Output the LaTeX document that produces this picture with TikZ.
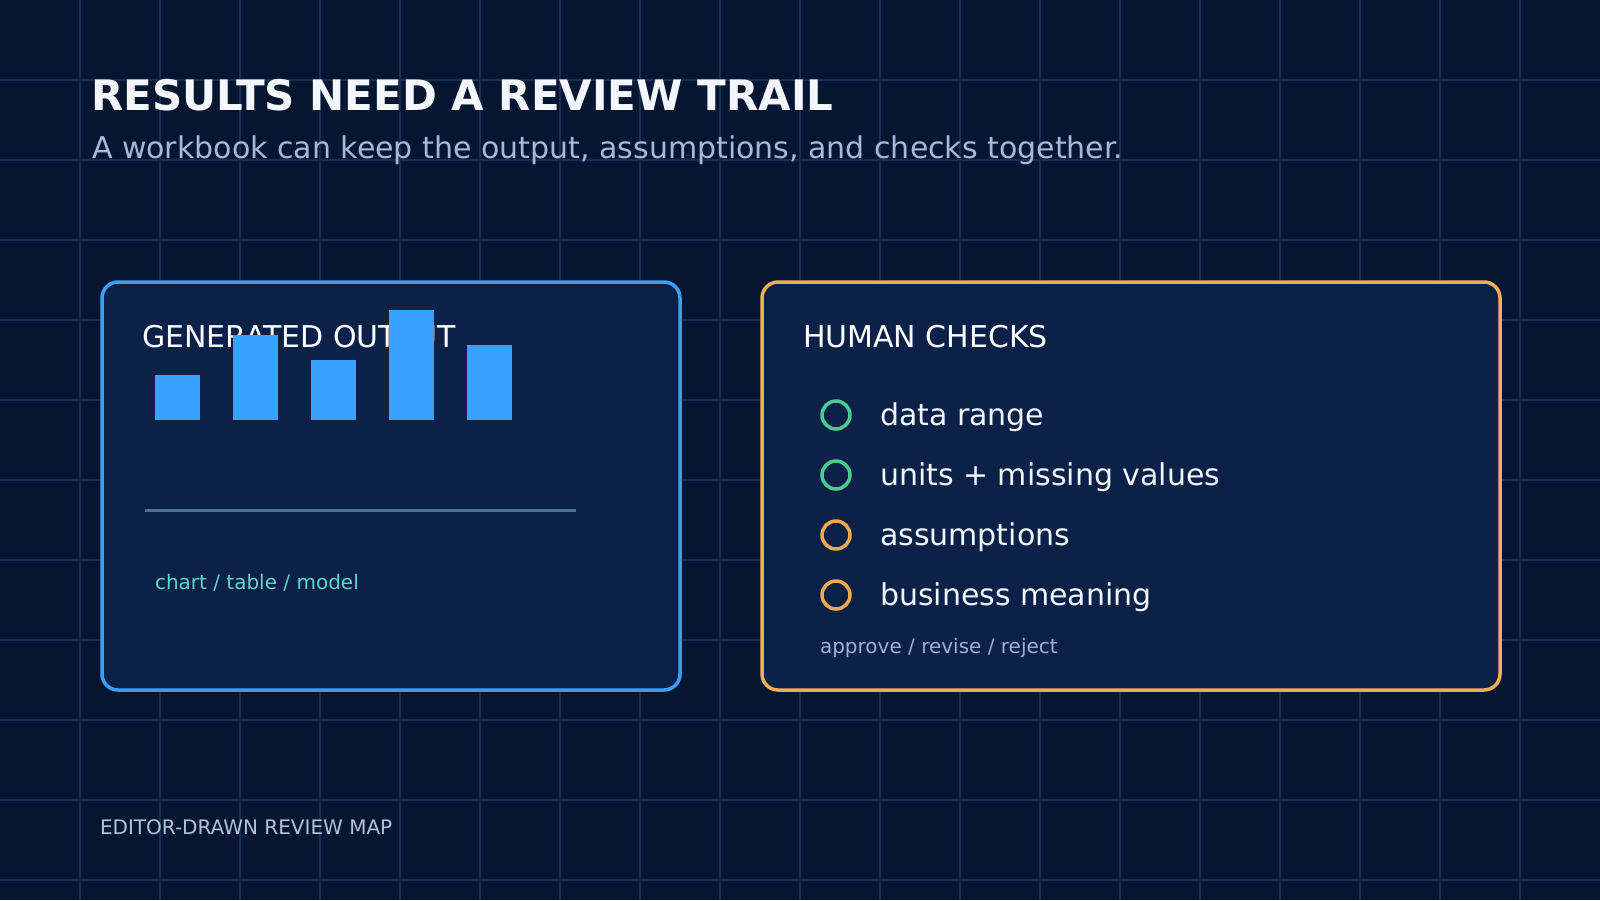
\documentclass[tikz,border=0pt]{standalone}
\usepackage{fontspec}
\setmainfont{DejaVu Sans}
\definecolor{bg}{HTML}{061530}
\definecolor{gridc}{HTML}{172E55}
\definecolor{cardfill}{HTML}{0C2147}
\definecolor{blueedge}{HTML}{3D9EF5}
\definecolor{orangeedge}{HTML}{F2AE57}
\definecolor{barc}{HTML}{38A2FF}
\definecolor{rulec}{HTML}{4A6D9C}
\definecolor{tealc}{HTML}{5CD6CC}
\definecolor{greenc}{HTML}{4CCB8F}
\definecolor{orangec}{HTML}{F0A94E}
\definecolor{subc}{HTML}{A8B9D8}
\definecolor{mutec}{HTML}{9DB0D0}
\definecolor{footc}{HTML}{B4C1D8}
\definecolor{titlec}{HTML}{F3F6FA}
\begin{document}
\begin{tikzpicture}[x=1pt,y=-1pt,
  txt/.style={anchor=base west, inner sep=0pt, outer sep=0pt},
  card/.style={rounded corners=16pt, line width=3.5pt, fill=cardfill},
  bar/.style={fill=barc, draw=none},
  ring/.style={circle, line width=3.5pt, minimum size=28pt, inner sep=0pt},
  heading/.style={txt, text=white, font=\fontsize{30}{36}\selectfont},
  item/.style={txt, text=titlec, font=\fontsize{30}{36}\selectfont}]
\useasboundingbox (0,0) rectangle (1600,900);
\fill[bg] (0,0) rectangle (1600,900);
\foreach \i in {80,160,...,1520} \draw[gridc, line width=1.2pt] (\i,0) -- (\i,900);
\foreach \j in {80,160,...,880} \draw[gridc, line width=1.2pt] (0,\j) -- (1600,\j);

\node[txt, text=titlec, font=\bfseries\fontsize{42}{48}\selectfont] (title) at (91,110) {RESULTS NEED A REVIEW TRAIL};
\node[txt, text=subc, font=\fontsize{30}{36}\selectfont] (subtitle) at (92,158) {A workbook can keep the output, assumptions, and checks together.};

% left card
\draw[card, draw=blueedge] (102,282) rectangle (680,690);
\node[heading] (outhead) at (142,347) {GENERATED OUTPUT};
\fill[bar] (155,375) rectangle (200,420);
\fill[bar] (233,335) rectangle (278,420);
\fill[bar] (311,360) rectangle (356,420);
\fill[bar] (389,310) rectangle (434,420);
\fill[bar] (467,345) rectangle (512,420);
\coordinate (ruleA) at (145,510);
\coordinate (ruleB) at (576,510);
\draw[rulec, line width=3pt] (ruleA) -- (ruleB);
\node[txt, text=tealc, font=\fontsize{20}{24}\selectfont] (outnote) at (155,589) {chart / table / model};

% right card
\draw[card, draw=orangeedge] (762,282) rectangle (1500,690);
\node[heading] (checkhead) at (803,347) {HUMAN CHECKS};
\node[ring, draw=greenc] (r1) at (836,415) {};
\node[ring, draw=greenc] (r2) at (836,475) {};
\node[ring, draw=orangec] (r3) at (836,535) {};
\node[ring, draw=orangec] (r4) at (836,595) {};
\node[item] (t1) at (880,425) {data range};
\node[item] (t2) at (880,485) {units + missing values};
\node[item] (t3) at (880,545) {assumptions};
\node[item] (t4) at (880,605) {business meaning};
\node[txt, text=mutec, font=\fontsize{20}{24}\selectfont] (decide) at (820,653) {approve / revise / reject};

\node[txt, text=footc, font=\fontsize{20}{24}\selectfont] (footer) at (100,834) {EDITOR-DRAWN REVIEW MAP};
\end{tikzpicture}
\end{document}
